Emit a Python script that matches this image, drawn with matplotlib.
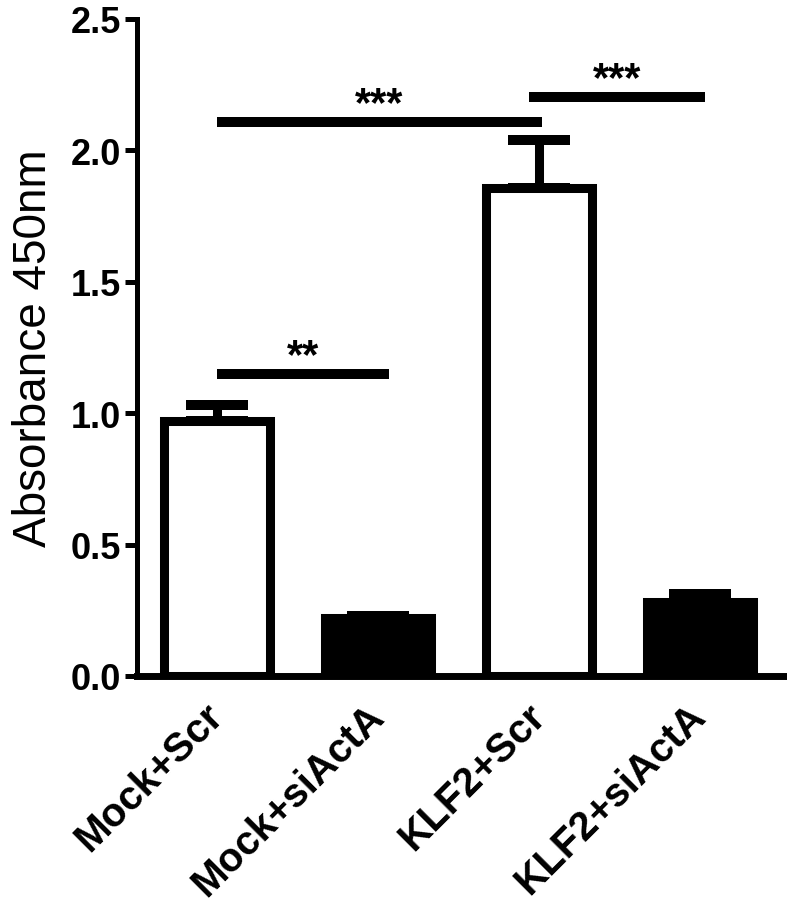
import numpy as np
import matplotlib
matplotlib.use('Agg')
import matplotlib.pyplot as plt

# values
groups = ['Mock+Scr', 'Mock+siActA', 'KLF2+Scr', 'KLF2+siActA']
means = [0.970, 0.219, 1.857, 0.280]
sems = [0.061, 0.010, 0.183, 0.032]
fills = ['white', 'black', 'white', 'black']

# significance bars: (x start, x end, height, label) in group units
sig_x1 = [0.0, 0.0, 1.94]
sig_x2 = [1.07, 2.02, 3.03]
sig_y = [1.15, 2.108, 2.203]
sig_txt = ['**', '***', '***']

yticks = [0.0, 0.5, 1.0, 1.5, 2.0, 2.5]

plt.rcParams['font.family'] = ['Liberation Sans', 'DejaVu Sans']

fig = plt.figure(figsize=(7.87, 9.03), dpi=100)
ax = fig.add_axes([0.1741, 0.2503, 0.8234, 0.7276])

x = np.arange(len(groups))
lw = 6.5
ax.errorbar(x, means, yerr=[np.zeros(len(sems)), sems], fmt='none',
            ecolor='black', elinewidth=lw, capsize=22, capthick=7.2, zorder=1)
ax.bar(x, means, width=0.66, color=fills, edgecolor='black', linewidth=lw, zorder=2)

for i in range(len(sig_y)):
    ax.plot([sig_x1[i], sig_x2[i]], [sig_y[i], sig_y[i]], color='black', lw=7.2,
            solid_capstyle='butt', zorder=3)
    ax.text((sig_x1[i] + sig_x2[i]) / 2, sig_y[i] + 0.025, sig_txt[i], ha='center',
            va='baseline', fontsize=30, fontweight='bold')

ax.set_xlim(-0.497, 3.53)
ax.set_ylim(0, 2.5)
ax.set_yticks(yticks)
ax.set_yticklabels(['%.1f' % v for v in yticks], fontsize=26, fontweight='bold')
ax.set_xticks(x)
ax.set_xticklabels(groups, rotation=45, ha='right', va='center', rotation_mode='anchor',
                   fontsize=29, fontweight='bold')
ax.tick_params(axis='x', length=0, pad=24)
ax.tick_params(axis='y', length=8.6, width=3.6, pad=3)
ax.spines['top'].set_visible(False)
ax.spines['right'].set_visible(False)
ax.spines['left'].set_linewidth(3.6)
ax.spines['bottom'].set_linewidth(5)
ax.set_ylabel('Absorbance 450nm', fontsize=33)
ax.yaxis.set_label_coords(-0.125, 0.5)

plt.savefig('out.png', dpi=100)
